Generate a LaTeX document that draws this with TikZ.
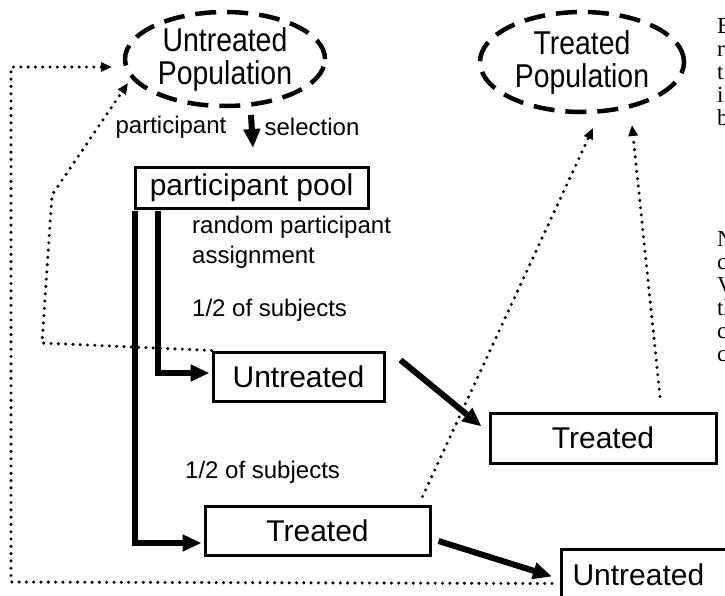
\documentclass[tikz,border=0pt]{standalone}
\usepackage{fontspec}
\setmainfont{Liberation Sans}
\newfontfamily\condsans{Liberation Sans}[FakeStretch=0.86]
\newfontfamily\serifletters{Liberation Serif}
\usetikzlibrary{arrows.meta,shapes.geometric}
\begin{document}
\begin{tikzpicture}[x=1pt,y=-1pt,
  pop/.style={draw, ellipse, line width=4.5pt, dash pattern=on 21pt off 11pt,
    inner sep=0pt, align=center, font=\condsans\fontsize{33}{33}\selectfont},
  boxs/.style={draw, rectangle, line width=3pt, inner sep=0pt,
    font=\fontsize{30}{32}\selectfont},
  lbl/.style={inner sep=0pt, font=\fontsize{24}{30}\selectfont},
  heavy/.style={line width=6pt, -{Triangle[length=19pt,width=16pt]}},
  dotline/.style={line width=3.4pt, dash pattern=on 0pt off 7.3pt, line cap=round,
    -{Triangle[length=11pt,width=9pt]}},
  ser/.style={inner sep=0pt, anchor=base west, font=\serifletters\fontsize{23}{23}\selectfont}]
\clip (0,0) rectangle (725,595);
\fill[white] (0,0) rectangle (725,595);

% nodes
\node[pop, minimum width=200pt, minimum height=94pt] (upop) at (225,59) {Untreated\\Population};
\node[pop, minimum width=204pt, minimum height=100pt] (tpop) at (582,62) {Treated\\Population};
\node[boxs, minimum width=233pt, minimum height=41pt] (pool) at (251.5,187.5) {participant pool};
\node[boxs, minimum width=171pt, minimum height=49pt] (umid) at (298.5,376.5) {Untreated};
\node[boxs, minimum width=226pt, minimum height=50pt] (tright) at (603,438) {Treated};
\node[boxs, minimum width=225pt, minimum height=49pt] (tlow) at (317.5,530.5) {Treated};
\node[boxs, anchor=north west, minimum height=50pt, text width=180pt, inner xsep=11pt, align=left] (ubot) at (560,548) {Untreated};

% labels
\node[lbl] (lpart) at (171,127) {participant};
\node[lbl] (lsel) at (312,127) {selection};
\node[lbl, anchor=west, align=left] (lrand) at (192,242) {random participant\\assignment};
\node[lbl, anchor=west] (lhalf1) at (192,310) {1/2 of subjects};
\node[lbl, anchor=west] (lhalf2) at (185,472) {1/2 of subjects};

% serif text cut off at the right edge, as in the reference
\node[ser] (s1) at (717,33) {B};
\node[ser] (s2) at (717,56) {r};
\node[ser] (s3) at (717,79) {t};
\node[ser] (s4) at (717,102) {i};
\node[ser] (s5) at (717,125) {b};
\node[ser] (s6) at (717,246) {N};
\node[ser] (s7) at (717,269) {c};
\node[ser] (s8) at (717,292) {V};
\node[ser] (s9) at (717,315) {th};
\node[ser] (s10) at (717,338) {c};
\node[ser] (s11) at (717,361) {c};

% heavy arrows
\coordinate (a1s) at (251,115);
\coordinate (a1e) at (253,148);
\draw[heavy] (a1s) -- (a1e);
\draw[heavy] ([xshift=1pt,yshift=-1.5pt]pool.south west) |- ([xshift=-2pt,yshift=-12.5pt]tlow.west);
\draw[heavy] ([xshift=24pt,yshift=-1.5pt]pool.south west) |- ([xshift=-2pt,yshift=3.5pt]umid.west);
\draw[heavy] ([xshift=15pt,yshift=16.5pt]umid.east) -- ([xshift=-7pt,yshift=-15pt]tright.north west);
\draw[heavy] ([xshift=7pt,yshift=-10.5pt]tlow.east) -- ([xshift=-8pt,yshift=-2pt]ubot.west);

% dotted arrows
\coordinate (d1) at (42,343);
\coordinate (d2) at (52,195);
\coordinate (d3) at (128,83);
\draw[dotline] (umid.north west) -- (d1) -- (d2) -- (d3);
\coordinate (o1) at (11,582);
\coordinate (o2) at (11,67);
\coordinate (o3) at (112,67);
\draw[dotline] ([xshift=-8pt,yshift=-9pt]ubot.west) -- (o1) -- (o2) -- (o3);
\coordinate (t1) at (593,128);
\draw[dotline] ([xshift=-9pt,yshift=8pt]tlow.north east) -- (t1);
\coordinate (t2) at (632,125);
\draw[dotline] ([xshift=57pt,yshift=15pt]tright.north) -- (t2);
\end{tikzpicture}
\end{document}
